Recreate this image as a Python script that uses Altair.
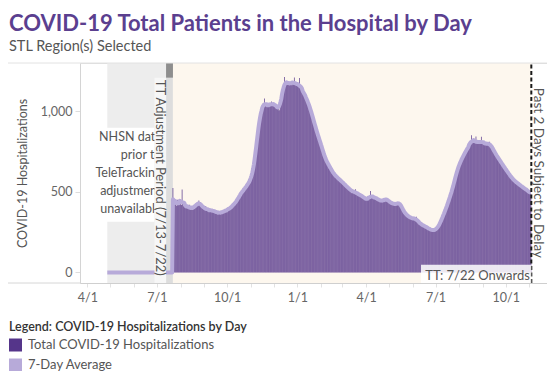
import altair as alt
import pandas as pd

# ---------------- text ----------------
TITLE = "COVID-19 Total Patients in the Hospital by Day"
SUBTITLE = "STL Region(s) Selected"
Y_TITLE = "COVID-19 Hospitalizations"
LEGEND_TITLE = "Legend: COVID-19 Hospitalizations by Day"
SERIES = ["Total COVID-19 Hospitalizations", "7-Day Average"]
NHSN_NOTE = "NHSN data\nprior to\nTeleTracking\nadjustment\nunavailable"
TT_ADJ_NOTE = "TT Adjustment Period (7/13-7/22)"
DELAY_NOTE = "Past 2 Days Subject to Delay"
TT_NOTE = "TT: 7/22 Onwards"

# ---------------- data: daily hospitalizations (TeleTracking, from 2020-07-22) ----------------
jul20 = [525, 430, 418, 447, 421, 412, 452, 433, 424, 441]
aug20 = [428, 419, 515, 436, 414, 408, 425, 417, 402, 411, 398, 405, 420, 396, 389, 401,
         394, 408, 415, 403, 418, 426, 412, 431, 446, 428, 437, 415, 409, 402, 398]
sep20 = [404, 395, 412, 386, 392, 380, 388, 397, 384, 379, 391, 386, 373, 381, 388, 376,
         369, 378, 366, 372, 364, 371, 380, 368, 375, 382, 370, 379, 386, 392]
oct20 = [388, 396, 383, 401, 398, 407, 404, 415, 422, 418, 431, 440, 436, 452, 447, 466,
         478, 489, 482, 497, 508, 512, 505, 521, 530, 538, 533, 547, 556, 562, 571]
nov20 = [580, 596, 612, 634, 655, 690, 728, 772, 826, 871, 905, 938, 962, 991, 1012, 1030,
         1049, 1035, 1081, 1040, 1028, 1046, 1033, 1052, 1038, 1029, 1044, 1061, 1040, 1047]
dec20 = [1052, 1038, 1043, 1035, 1026, 1031, 1022, 1004, 1012, 1048, 1079, 1112, 1143, 1158,
         1214, 1166, 1172, 1181, 1169, 1187, 1176, 1183, 1168, 1174, 1162, 1179, 1185, 1211,
         1172, 1166, 1158]
jan21 = [1164, 1155, 1170, 1208, 1149, 1143, 1126, 1138, 1122, 1109, 1104, 1086, 1081, 1072,
         1055, 1046, 1028, 1018, 1006, 981, 968, 955, 930, 916, 903, 880, 868, 855, 834, 822, 812]
feb21 = [798, 776, 768, 744, 735, 712, 706, 688, 687, 672, 675, 662, 655, 638, 636, 620,
         622, 608, 610, 598, 600, 588, 590, 579, 581, 570, 572, 563]
mar21 = [564, 558, 551, 548, 540, 537, 531, 528, 522, 524, 515, 510, 506, 503, 498, 501,
         494, 516, 492, 488, 490, 483, 480, 486, 478, 474, 477, 470, 466, 462, 459]
apr21 = [455, 452, 449, 458, 462, 467, 505, 463, 468, 472, 461, 466, 470, 459, 463, 452,
         456, 449, 444, 451, 440, 446, 439, 452, 448, 457, 454, 462, 450, 447]
may21 = [441, 437, 430, 435, 428, 431, 424, 427, 420, 425, 421, 429, 432, 438, 434, 426,
         415, 403, 392, 381, 376, 369, 362, 359, 354, 350, 346, 341, 339, 343, 337]
jun21 = [336, 334, 331, 333, 329, 346, 322, 316, 313, 307, 303, 300, 297, 294, 292, 289,
         287, 284, 281, 279, 276, 273, 270, 268, 265, 263, 261, 260, 262, 264]
jul21 = [265, 270, 271, 281, 285, 298, 304, 320, 327, 343, 350, 367, 373, 391, 398, 416,
         425, 445, 453, 473, 482, 503, 512, 535, 548, 573, 587, 613, 627, 646, 653]
aug21 = [668, 681, 690, 701, 712, 720, 729, 738, 746, 755, 763, 772, 781, 788, 796, 803,
         852, 814, 820, 808, 812, 806, 845, 803, 807, 799, 810, 802, 806, 843, 801]
sep21 = [806, 800, 808, 797, 803, 799, 795, 802, 790, 812, 793, 786, 778, 770, 761, 752,
         744, 735, 727, 719, 712, 705, 699, 693, 684, 676, 668, 661, 655, 648]
oct21 = [642, 634, 630, 617, 615, 605, 602, 591, 590, 580, 579, 570, 570, 561, 562, 554,
         555, 546, 548, 539, 540, 532, 533, 524, 526, 518, 519, 511, 513, 505, 507]
nov21 = [498, 490, 484]

TT_START = "2020-07-22"
NHSN_START = "2020-04-27"      # NHSN period shown as 0 (data unavailable)
NHSN_END = "2020-07-21"

# annotation periods
NHSN_SHADE = ("2020-04-27", "2020-07-13")
TT_ADJ = ("2020-07-13", "2020-07-22")
TT_SHADE = ("2020-07-22", "2021-11-03T12:00:00")
DELAY_LINE = "2021-11-03T12:00:00"

FMT = "%Y-%m-%dT00:00:00"
tt_values = (jul20 + aug20 + sep20 + oct20 + nov20 + dec20 + jan21 + feb21 + mar21 +
             apr21 + may21 + jun21 + jul21 + aug21 + sep21 + oct21 + nov21)
tt_dates = pd.date_range(TT_START, periods=len(tt_values), freq="D")
nhsn_dates = pd.date_range(NHSN_START, NHSN_END, freq="D")

df = pd.DataFrame({
    "date": list(nhsn_dates.strftime(FMT)) + list(tt_dates.strftime(FMT)),
    "hosp": [0] * len(nhsn_dates) + tt_values,
    "period": ["NHSN"] * len(nhsn_dates) + ["TT"] * len(tt_values),
})

# ---------------- style ----------------
FONT = "Lato"
DARK = "#55358a"
LIGHT = "#b7aad9"
PURPLE_TITLE = "#5b3f8f"
W, H = 467, 220
Y_MIN, Y_MAX = -66, 1301


def dt(s):
    t = pd.Timestamp(s)
    return alt.DateTime(year=t.year, month=t.month, date=t.day, hours=t.hour, minutes=t.minute)


x_scale = alt.Scale(domain=[dt("2020-03-28T19:00"), dt("2021-11-17T12:00")])
y_scale = alt.Scale(domain=[Y_MIN, Y_MAX], nice=False, zero=False)

month_ticks = [dt(d) for d in pd.date_range("2020-04-01", "2021-11-01", freq="MS")]

x_axis = alt.Axis(
    values=month_ticks, title=None, grid=False,
    labelExpr="month(datum.value) % 3 == 0 ? timeFormat(datum.value, '%-m/%-d') : ''",
    labelOverlap=False, labelFlush=5, labelFlushOffset=4,
    domainColor="#cfcfcf", tickColor="#e2e2e2", tickSize=4,
    labelColor="#666666", labelFontSize=12.5, labelPadding=4, labelFont=FONT,
)
y_axis = alt.Axis(
    values=[0, 500, 1000], labelExpr="format(datum.value, ',')", title=Y_TITLE, grid=False,
    domainColor="#d4d4d4", tickColor="#dddddd", tickSize=5,
    labelColor="#666666", labelFontSize=12.5, labelPadding=3, labelFont=FONT,
    titleColor="#555555", titleFontSize=12.5, titleFontWeight="normal", titleFont=FONT,
    titleX=-58, titleY=110, titleAngle=-90, titleAlign="center", titleBaseline="middle",
)


def xd(s):
    return alt.XDatum(dt(s), type="temporal", scale=x_scale, axis=x_axis)


def x2d(s):
    return alt.X2Datum(dt(s))


def yd(v):
    return alt.YDatum(v, type="quantitative", scale=y_scale, axis=y_axis)


def y2d(v):
    return alt.Y2Datum(v)


def band(start, end, color, y0=Y_MIN, y1=Y_MAX, opacity=1.0):
    return alt.Chart(pd.DataFrame({"k": [0]})).mark_rect(color=color, opacity=opacity).encode(
        x=xd(start), x2=x2d(end), y=yd(y0), y2=y2d(y1))


def note(text, x, y, **kw):
    return alt.Chart(pd.DataFrame({"t": [text]})).mark_text(font=FONT, **kw).encode(
        x=xd(x), y=yd(y), text="t:N")


shade_nhsn = band(*NHSN_SHADE, "#ededed")
shade_adj = band(*TT_ADJ, "#dddddd")
shade_tt = band(*TT_SHADE, "#fdf7ee")

bars = alt.Chart(df).transform_filter(alt.datum.period == "TT").transform_calculate(
    series=f"'{SERIES[0]}'"
).mark_bar(width=0.7).encode(
    x=alt.X("date:T", scale=x_scale, axis=x_axis),
    y=alt.Y("hosp:Q", scale=y_scale, axis=y_axis),
    color=alt.Color("series:N", scale=alt.Scale(domain=SERIES, range=[DARK, LIGHT]),
                    legend=alt.Legend(
                        title=LEGEND_TITLE, orient="none", legendX=-71, legendY=258,
                        direction="vertical", symbolType="square", symbolSize=169,
                        symbolStrokeWidth=0, symbolOpacity=1, labelFont=FONT,
                        labelFontSize=13, labelColor="#555555", labelOffset=6,
                        labelLimit=0, titleLimit=0,
                        titleFont=FONT, titleFontSize=12.5, titleFontWeight=600,
                        titleColor="#333333", titlePadding=5, rowPadding=6, padding=0,
                    )),
)

avg_line = alt.Chart(df).transform_window(
    avg="mean(hosp)", frame=[-3, 3], groupby=["period"], sort=[alt.SortField("date")]
).mark_line(color=LIGHT, strokeWidth=4, strokeJoin="round").encode(
    x=alt.X("date:T", scale=x_scale, axis=x_axis),
    y=alt.Y("avg:Q", scale=y_scale, axis=y_axis),
    order="date:T",
)

delay_rule = alt.Chart(pd.DataFrame({"k": [0]})).mark_rule(
    color="#1a1a1a", strokeWidth=2, strokeDash=[4, 2.5]
).encode(x=xd(DELAY_LINE), y=yd(Y_MIN), y2=y2d(Y_MAX))

tt_box = band("2021-06-12T00:00", DELAY_LINE, "#ffffff", y0=Y_MIN, y1=47, opacity=0.85)
tt_text = note(TT_NOTE, "2021-11-01T12:00", -22, align="right", baseline="middle",
               fontSize=13, color="#555555")

nhsn_box = band("2020-03-28T19:00", "2020-06-27T21:00", "#ffffff", y0=314, y1=898)
nhsn_text = note(NHSN_NOTE, "2020-07-07T00:00", 843, align="right", baseline="middle",
                 lineBreak="\n", lineHeight=18, fontSize=12.5, color="#555555")

adj_box = band("2020-06-27T21:00", TT_ADJ[0], "#f7f7f7", y0=Y_MIN, y1=1210)
adj_text = note(TT_ADJ_NOTE, "2020-07-05T14:00", 1197, angle=90, align="left",
                baseline="middle", fontSize=13, color="#555555")
adj_handle = band(*TT_ADJ, "#8e8e8e", y0=1210, y1=Y_MAX)

delay_text = note(DELAY_NOTE, "2021-11-12T00:00", 1147, angle=90, align="left",
                  baseline="middle", fontSize=13.5, color="#555555")

top_rule = alt.Chart(pd.DataFrame({"k": [0]})).mark_rule(color="#e2e2e2").encode(
    y=yd(Y_MAX), x=alt.value(-80), x2=alt.value(W))
bottom_rule = alt.Chart(pd.DataFrame({"k": [0]})).mark_rule(color="#d6d6d6").encode(
    y=yd(Y_MIN), x=alt.value(-80), x2=alt.value(0))

chart = alt.layer(
    shade_nhsn, shade_adj, shade_tt, bars, avg_line, delay_rule, tt_box, tt_text,
    nhsn_box, nhsn_text, adj_box, adj_text, adj_handle, delay_text, top_rule, bottom_rule,
).properties(
    width=W, height=H,
    title=alt.TitleParams(
        text=TITLE, subtitle=SUBTITLE, anchor="start", frame="group", dx=-71, offset=8,
        font=FONT, fontSize=22, fontWeight="bold", color=PURPLE_TITLE,
        subtitleFont=FONT, subtitleFontSize=14.5, subtitleColor="#555555", subtitlePadding=4,
    ),
    padding={"left": 72, "top": 55, "right": 0, "bottom": 88},
    autosize=alt.AutoSizeParams(type="none"),
).configure_view(strokeWidth=0).configure(font=FONT, background="white")

chart.save("out.html", embed_options={"renderer": "svg", "actions": False})
